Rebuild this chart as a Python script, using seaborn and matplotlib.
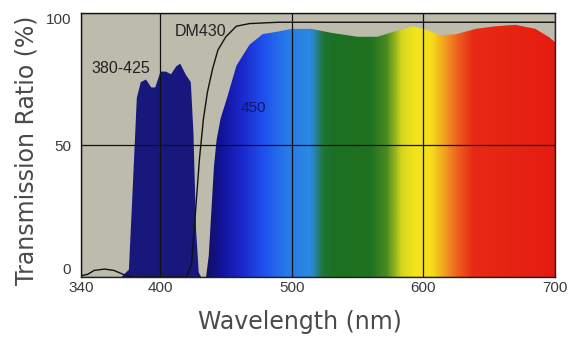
import numpy as np
import matplotlib
matplotlib.use("Agg")
import matplotlib.pyplot as plt
import seaborn as sns
from matplotlib.colors import LinearSegmentedColormap

sns.set_style("white")

# Excitation filter 380-425 (transmission %)
ex_wl = [370, 376, 379, 382, 385, 389, 393, 396, 400, 404, 408, 412, 415, 419, 423, 425, 427, 429, 431]
ex_tr = [0, 3, 35, 68, 74, 75, 72, 72, 78, 78, 77, 80, 81, 77, 74, 55, 18, 2, 0]

# Barrier filter (450 long pass)
bf_wl = [435, 437, 439, 441, 443, 446, 451, 458, 468, 478, 490, 500, 515, 530, 550, 565, 578,
         592, 603, 613, 625, 640, 655, 670, 685, 695, 700]
bf_tr = [0, 8, 25, 42, 52, 60, 68, 80, 88, 92, 93, 94, 94, 92.5, 91, 91, 93,
         95, 93.5, 91.5, 92, 94, 95, 95.5, 94, 91, 89]

# Dichroic mirror DM430
dm_wl = [340, 345, 350, 358, 365, 372, 378, 420, 424, 427, 430, 433, 436, 440, 444, 450,
         458, 468, 490, 520, 560, 600, 650, 700]
dm_tr = [0.5, 1, 2.5, 3, 2.5, 1, 0, 0, 5, 25, 45, 60, 70, 79, 86, 91,
         95, 96, 96.5, 96.5, 96.5, 96.5, 96.5, 96.5]

x_ticks = [340, 400, 500, 600, 700]
y_ticks = [0, 50, 100]

# colour of the spectrum fill by wavelength
spec_stops = [(340, '#10106a'), (436, '#10106a'), (448, '#1414a0'), (462, '#1a28cc'),
              (478, '#1e50ec'), (495, '#2878ea'), (514, '#2c8ae0'), (524, '#1e7436'),
              (532, '#1c7022'), (560, '#207220'), (572, '#4a8a20'), (584, '#d8d820'),
              (594, '#f4e41c'), (606, '#f6de1c'), (616, '#f2a020'), (626, '#ee6020'),
              (638, '#e82a14'), (700, '#e41c10')]

fig = plt.figure(figsize=(5.77, 3.46), dpi=100)
ax = fig.add_axes([0.1404, 0.1994, 0.8215, 0.763])
ax.set_facecolor('#bcbbac')

# barrier filter with rainbow gradient
poly = ax.fill_between(bf_wl, bf_tr, color='none', lw=0)
lo, hi = 340, 700
cmap = LinearSegmentedColormap.from_list(
    'spec', [((w - lo) / (hi - lo), c) for w, c in spec_stops])
grad = np.linspace(lo, hi, 721)[None, :]
im = ax.imshow(grad, extent=[lo, hi, 0, 100], aspect='auto', cmap=cmap,
               vmin=lo, vmax=hi, origin='lower', zorder=1)
im.set_clip_path(poly.get_paths()[0], transform=ax.transData)

# excitation filter
ax.fill_between(ex_wl, ex_tr, color='#17177c', lw=0, zorder=1.5)

# dichroic mirror curve
sns.lineplot(x=dm_wl, y=dm_tr, color='#111111', lw=1.0, ax=ax, zorder=2)

ax.set_xlim(340, 700)
ax.set_ylim(0, 100)
ax.set_xticks(x_ticks)
ax.set_yticks(y_ticks)
ax.grid(True, color='#111111', lw=0.9)
ax.set_axisbelow(False)
for s in ax.spines.values():
    s.set_color('#222222')
    s.set_linewidth(1.0)

tick_font = ['Liberation Sans Narrow', 'Liberation Sans', 'DejaVu Sans']
ax.tick_params(length=0, labelsize=11, labelcolor='#3a3a3a')
ax.tick_params(axis='x', pad=3)
ax.tick_params(axis='y', pad=7)
for lab in ax.get_xticklabels() + ax.get_yticklabels():
    lab.set_family(tick_font)
# keep the 0 / 100 labels inside the frame height like the original
yt = ax.yaxis.get_major_ticks()
yt[0].label1.set_va('bottom')
yt[-1].label1.set_va('top')

ax.set_xlabel('Wavelength (nm)', fontsize=17, color='#4a4a4a', family='DejaVu Sans')
ax.set_ylabel('Transmission Ratio (%)', fontsize=17, color='#4a4a4a', family='DejaVu Sans')
ax.xaxis.set_label_coords(0.462, -0.125)
ax.yaxis.set_label_coords(-0.089, 0.48)

ax.text(348, 79, '380-425', fontsize=11.5, color='#222222', va='center', ha='left', family=tick_font)
ax.text(411, 93, 'DM430', fontsize=11.5, color='#222222', va='center', ha='left', family=tick_font)
ax.text(461, 64, '450', fontsize=11, color='#14146a', va='center', ha='left', family=tick_font)

fig.savefig('out.png', dpi=100)
